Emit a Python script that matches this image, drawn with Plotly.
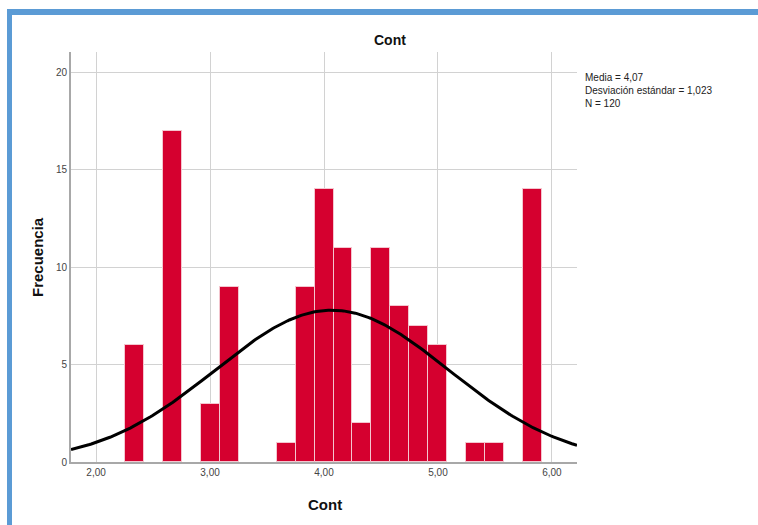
import numpy as np
import plotly.graph_objects as go

# Histogram of "Cont" (bin width 1/6)
bin_centers = [2.3333, 2.6667, 3.0, 3.1667, 3.6667, 3.8333, 4.0, 4.1667,
               4.3333, 4.5, 4.6667, 4.8333, 5.0, 5.3333, 5.5, 5.8333]
counts = [6, 17, 3, 9, 1, 9, 14, 11, 2, 11, 8, 7, 6, 1, 1, 14]
bin_width = 1 / 6

mean_val = 4.07
sd_val = 1.023
n_obs = 120

x_ticks = [2, 3, 4, 5, 6]
x_ticklabels = ["2,00", "3,00", "4,00", "5,00", "6,00"]
y_ticks = [0, 5, 10, 15, 20]
y_ticklabels = ["0", "5", "10", "15", "20"]

x_range = [1.78, 6.22]
y_range = [0, 21.06]

# Fitted normal curve scaled to the histogram counts
xs = np.linspace(x_range[0], x_range[1], 300)
ys = n_obs * bin_width * np.exp(-0.5 * ((xs - mean_val) / sd_val) ** 2) / (sd_val * np.sqrt(2 * np.pi))

W, H = 758, 525
L, R, T, B = 71, 181, 52, 63
pw, ph = W - L - R, H - T - B


def px(x):
    return (x - L) / pw


def py(y):
    return (H - B - y) / ph


fig = go.Figure()
fig.add_trace(go.Bar(
    x=bin_centers, y=counts, width=bin_width,
    marker=dict(color="#D5002F", line=dict(color="#F4C6CF", width=1)),
    hoverinfo="x+y", showlegend=False,
))
fig.add_trace(go.Scatter(
    x=xs, y=ys, mode="lines",
    line=dict(color="black", width=3), showlegend=False, hoverinfo="skip",
))

blue = "#5B9BD5"
fig.update_layout(
    width=W, height=H,
    margin=dict(l=L, r=R, t=T, b=B),
    paper_bgcolor="white", plot_bgcolor="white",
    font=dict(family="Liberation Sans, Arial, sans-serif", color="#222"),
    bargap=0,
    xaxis=dict(
        range=x_range, tickvals=x_ticks, ticktext=x_ticklabels,
        showgrid=True, gridcolor="#D2D2D2", gridwidth=1,
        showline=True, linecolor="#A8A8A8", linewidth=2,
        ticks="", zeroline=False,
        tickfont=dict(size=10, color="#444"),
    ),
    yaxis=dict(
        range=y_range, tickvals=y_ticks, ticktext=y_ticklabels,
        showgrid=True, gridcolor="#D2D2D2", gridwidth=1,
        showline=True, linecolor="#A8A8A8", linewidth=2,
        ticks="", zeroline=False,
        tickfont=dict(size=10, color="#444"),
    ),
    shapes=[
        dict(type="line", xref="paper", yref="paper",
             x0=px(9.5), x1=px(9.5), y0=py(10), y1=py(H + 2),
             line=dict(color=blue, width=5)),
        dict(type="line", xref="paper", yref="paper",
             x0=px(7), x1=px(W + 2), y0=py(12), y1=py(12),
             line=dict(color=blue, width=6)),
    ],
    annotations=[
        dict(text="<b>Cont</b>", xref="paper", yref="paper",
             x=px(390), y=py(40), xanchor="center", yanchor="middle",
             showarrow=False, font=dict(size=14, color="#111")),
        dict(text="<b>Cont</b>", xref="paper", yref="paper",
             x=px(325), y=py(504), xanchor="center", yanchor="middle",
             showarrow=False, font=dict(size=15, color="#111")),
        dict(text="<b>Frecuencia</b>", xref="paper", yref="paper",
             x=px(37), y=py(257), xanchor="center", yanchor="middle",
             showarrow=False, textangle=-90,
             font=dict(size=15, color="#111")),
        dict(text="Media = 4,07<br>Desviación estándar = 1,023<br>N = 120",
             xref="paper", yref="paper", x=px(583), y=py(70),
             xanchor="left", yanchor="top", align="left", showarrow=False,
             font=dict(size=10, color="#222",
                       family="Liberation Sans Narrow, Liberation Sans, Arial")),
    ],
)

fig.write_html("out.html")
